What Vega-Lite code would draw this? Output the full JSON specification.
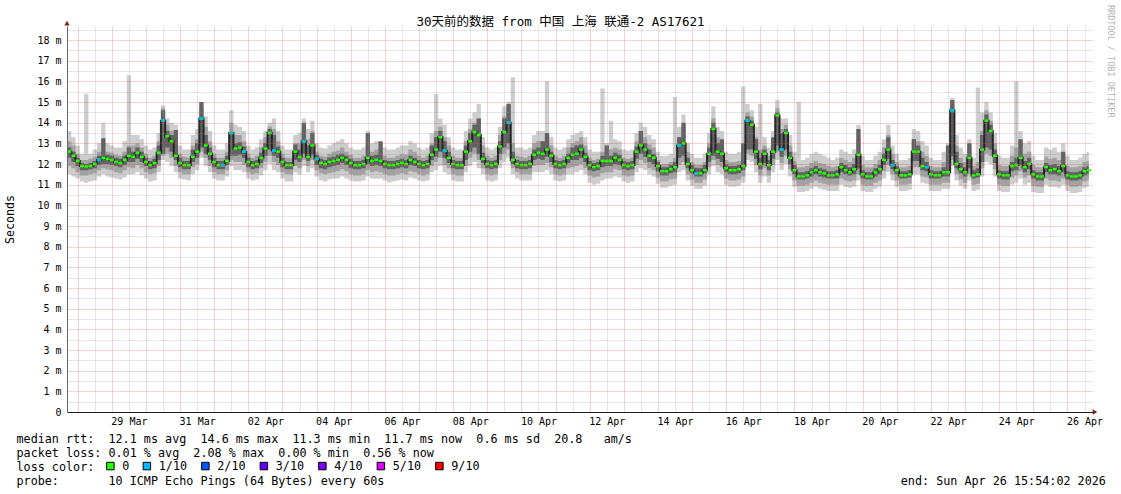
{
"$schema":"https://vega.github.io/schema/vega-lite/v6.json",
"width":1026,"height":386,
"autosize":{"type":"none"},
"padding":{"left":67,"top":26,"right":28,"bottom":82},
"background":"#ffffff",
"config":{"view":{"stroke":null},
 "axisX":{"tickCount":60,"gridDash":[1,1],"labelOverlap":false,"labelFlush":false},
 "axisY":{"tickCount":38,"gridDash":[1,1],"labelOverlap":false,"labelFlush":false}},
"title":{"text":"30天前的数据 from 中国 上海 联通-2 AS17621","anchor":"middle","font":"DejaVu Sans Mono, Noto Sans CJK SC","fontSize":12.5,"fontWeight":"normal","color":"#000000","dx":-19.5,"dy":28,"offset":4},
"data":{"values":[
{"t":"2026-03-27T15:00Z","l":11.6,"h":13.9,"a":12.0,"b":13.4,"c":12.5,"d":13.1,"m":12.9},
{"t":"2026-03-27T18:00Z","l":11.5,"h":13.6,"a":11.9,"b":13.1,"c":12.3,"d":12.8,"m":12.6},
{"t":"2026-03-27T21:00Z","l":11.4,"h":13.3,"a":11.8,"b":12.9,"c":12.1,"d":12.6,"m":12.4},
{"t":"2026-03-28T00:00Z","l":11.3,"h":12.9,"a":11.6,"b":12.5,"c":11.9,"d":12.3,"m":12.15},
{"t":"2026-03-28T03:00Z","l":11.15,"h":12.5,"a":11.45,"b":12.2,"c":11.7,"d":12.05,"m":11.9},
{"t":"2026-03-28T06:00Z","l":11.1,"h":15.4,"a":11.45,"b":12.2,"c":11.7,"d":12.0,"m":11.88},
{"t":"2026-03-28T09:00Z","l":11.15,"h":12.5,"a":11.5,"b":12.25,"c":11.75,"d":12.05,"m":11.9},
{"t":"2026-03-28T12:00Z","l":11.2,"h":12.7,"a":11.55,"b":12.35,"c":11.8,"d":12.15,"m":12.0},
{"t":"2026-03-28T15:00Z","l":11.4,"h":13.0,"a":11.7,"b":12.6,"c":11.95,"d":12.4,"m":12.2,"q":"1/10"},
{"t":"2026-03-28T18:00Z","l":11.5,"h":14.0,"a":11.8,"b":13.1,"c":12.0,"d":13.25,"m":12.3},
{"t":"2026-03-28T21:00Z","l":11.4,"h":13.0,"a":11.75,"b":12.6,"c":12.0,"d":12.45,"m":12.25},
{"t":"2026-03-29T00:00Z","l":11.35,"h":12.9,"a":11.7,"b":12.55,"c":11.95,"d":12.4,"m":12.2},
{"t":"2026-03-29T03:00Z","l":11.3,"h":12.8,"a":11.6,"b":12.45,"c":11.9,"d":12.3,"m":12.1},
{"t":"2026-03-29T06:00Z","l":11.25,"h":12.8,"a":11.55,"b":12.4,"c":11.85,"d":12.25,"m":12.05},
{"t":"2026-03-29T09:00Z","l":11.35,"h":13.1,"a":11.7,"b":12.6,"c":11.95,"d":12.4,"m":12.2},
{"t":"2026-03-29T12:00Z","l":11.5,"h":16.3,"a":11.85,"b":12.9,"c":12.1,"d":12.8,"m":12.4},
{"t":"2026-03-29T15:00Z","l":11.5,"h":13.4,"a":11.8,"b":12.9,"c":12.1,"d":12.6,"m":12.35},
{"t":"2026-03-29T18:00Z","l":11.6,"h":13.4,"a":11.95,"b":13.0,"c":12.25,"d":12.8,"m":12.55},
{"t":"2026-03-29T21:00Z","l":11.45,"h":13.2,"a":11.8,"b":12.8,"c":12.1,"d":12.6,"m":12.35},
{"t":"2026-03-30T00:00Z","l":11.3,"h":12.9,"a":11.6,"b":12.5,"c":11.9,"d":12.3,"m":12.1},
{"t":"2026-03-30T03:00Z","l":11.15,"h":12.7,"a":11.5,"b":12.3,"c":11.75,"d":12.15,"m":11.95},
{"t":"2026-03-30T06:00Z","l":11.2,"h":12.8,"a":11.55,"b":12.4,"c":11.8,"d":12.25,"m":12.05},
{"t":"2026-03-30T09:00Z","l":11.6,"h":13.5,"a":11.9,"b":13.1,"c":12.2,"d":12.9,"m":12.55},
{"t":"2026-03-30T12:00Z","l":12.2,"h":14.85,"a":12.4,"b":14.7,"c":12.5,"d":14.6,"m":14.1,"q":"1/10"},
{"t":"2026-03-30T15:00Z","l":12.1,"h":14.2,"a":12.5,"b":13.9,"c":12.8,"d":13.6,"m":13.35},
{"t":"2026-03-30T18:00Z","l":11.9,"h":14.0,"a":12.3,"b":13.6,"c":12.6,"d":13.4,"m":13.1},
{"t":"2026-03-30T21:00Z","l":11.6,"h":13.9,"a":11.9,"b":13.3,"c":12.2,"d":13.65,"m":12.4},
{"t":"2026-03-31T00:00Z","l":11.3,"h":12.9,"a":11.6,"b":12.5,"c":11.85,"d":12.3,"m":12.05},
{"t":"2026-03-31T03:00Z","l":11.25,"h":12.7,"a":11.5,"b":12.35,"c":11.75,"d":12.15,"m":11.95},
{"t":"2026-03-31T06:00Z","l":11.2,"h":12.7,"a":11.5,"b":12.3,"c":11.75,"d":12.15,"m":11.95},
{"t":"2026-03-31T09:00Z","l":11.5,"h":13.4,"a":11.85,"b":12.9,"c":12.1,"d":12.7,"m":12.35},
{"t":"2026-03-31T12:00Z","l":11.7,"h":13.7,"a":12.0,"b":13.2,"c":12.3,"d":13.0,"m":12.6},
{"t":"2026-03-31T15:00Z","l":12.3,"h":15.0,"a":12.6,"b":14.7,"c":12.8,"d":15.0,"m":14.2,"q":"1/10"},
{"t":"2026-03-31T18:00Z","l":11.9,"h":14.3,"a":12.3,"b":13.8,"c":12.5,"d":13.4,"m":12.9},
{"t":"2026-03-31T21:00Z","l":11.6,"h":13.6,"a":11.9,"b":13.1,"c":12.2,"d":12.8,"m":12.5},
{"t":"2026-04-01T00:00Z","l":11.3,"h":12.9,"a":11.6,"b":12.5,"c":11.85,"d":12.3,"m":12.1},
{"t":"2026-04-01T03:00Z","l":11.2,"h":12.7,"a":11.5,"b":12.3,"c":11.75,"d":12.15,"m":11.95},
{"t":"2026-04-01T06:00Z","l":11.2,"h":12.7,"a":11.5,"b":12.3,"c":11.75,"d":12.15,"m":11.95,"q":"1/10"},
{"t":"2026-04-01T09:00Z","l":11.4,"h":13.0,"a":11.7,"b":12.6,"c":11.95,"d":12.4,"m":12.15},
{"t":"2026-04-01T12:00Z","l":11.9,"h":14.6,"a":12.2,"b":14.0,"c":12.4,"d":13.55,"m":13.5,"q":"1/10"},
{"t":"2026-04-01T15:00Z","l":11.7,"h":13.9,"a":12.1,"b":13.4,"c":12.4,"d":13.0,"m":12.75},
{"t":"2026-04-01T18:00Z","l":11.7,"h":13.8,"a":12.1,"b":13.4,"c":12.45,"d":13.05,"m":12.8},
{"t":"2026-04-01T21:00Z","l":11.6,"h":13.6,"a":11.95,"b":13.1,"c":12.3,"d":12.85,"m":12.6,"q":"1/10"},
{"t":"2026-04-02T00:00Z","l":11.3,"h":12.9,"a":11.6,"b":12.5,"c":11.85,"d":12.3,"m":12.1},
{"t":"2026-04-02T03:00Z","l":11.2,"h":12.7,"a":11.5,"b":12.3,"c":11.75,"d":12.15,"m":11.95},
{"t":"2026-04-02T06:00Z","l":11.25,"h":12.8,"a":11.55,"b":12.4,"c":11.8,"d":12.2,"m":12.0},
{"t":"2026-04-02T09:00Z","l":11.45,"h":13.2,"a":11.8,"b":12.8,"c":12.05,"d":12.55,"m":12.3},
{"t":"2026-04-02T12:00Z","l":11.7,"h":13.6,"a":12.1,"b":13.3,"c":12.4,"d":13.0,"m":12.75},
{"t":"2026-04-02T15:00Z","l":12.0,"h":14.0,"a":12.4,"b":13.8,"c":12.7,"d":13.7,"m":13.5},
{"t":"2026-04-02T18:00Z","l":11.7,"h":14.2,"a":12.1,"b":13.7,"c":12.4,"d":13.4,"m":12.65,"q":"1/10"},
{"t":"2026-04-02T21:00Z","l":11.6,"h":13.6,"a":11.95,"b":13.1,"c":12.3,"d":12.85,"m":12.6},
{"t":"2026-04-03T00:00Z","l":11.3,"h":12.9,"a":11.6,"b":12.5,"c":11.85,"d":12.3,"m":12.1},
{"t":"2026-04-03T03:00Z","l":11.15,"h":12.7,"a":11.5,"b":12.3,"c":11.75,"d":12.1,"m":11.95},
{"t":"2026-04-03T06:00Z","l":11.15,"h":12.7,"a":11.5,"b":12.3,"c":11.75,"d":12.1,"m":11.95},
{"t":"2026-04-03T09:00Z","l":11.6,"h":13.4,"a":11.9,"b":13.0,"c":12.2,"d":12.95,"m":12.6},
{"t":"2026-04-03T12:00Z","l":11.5,"h":13.5,"a":11.8,"b":13.0,"c":12.1,"d":12.7,"m":12.35},
{"t":"2026-04-03T15:00Z","l":11.9,"h":14.2,"a":12.2,"b":13.7,"c":12.5,"d":14.0,"m":13.1,"q":"1/10"},
{"t":"2026-04-03T18:00Z","l":11.6,"h":13.7,"a":11.9,"b":13.2,"c":12.15,"d":12.9,"m":12.35},
{"t":"2026-04-03T21:00Z","l":11.8,"h":14.1,"a":12.2,"b":13.6,"c":12.45,"d":13.5,"m":12.9},
{"t":"2026-04-04T00:00Z","l":11.4,"h":13.0,"a":11.7,"b":12.6,"c":11.95,"d":12.45,"m":12.25,"q":"1/10"},
{"t":"2026-04-04T03:00Z","l":11.2,"h":12.8,"a":11.55,"b":12.4,"c":11.8,"d":12.25,"m":12.05},
{"t":"2026-04-04T06:00Z","l":11.15,"h":12.75,"a":11.5,"b":12.35,"c":11.75,"d":12.2,"m":12.0},
{"t":"2026-04-04T09:00Z","l":11.25,"h":12.9,"a":11.55,"b":12.5,"c":11.85,"d":12.3,"m":12.1},
{"t":"2026-04-04T12:00Z","l":11.3,"h":13.0,"a":11.6,"b":12.6,"c":11.9,"d":12.35,"m":12.15},
{"t":"2026-04-04T15:00Z","l":11.3,"h":13.1,"a":11.65,"b":12.65,"c":11.95,"d":12.45,"m":12.2},
{"t":"2026-04-04T18:00Z","l":11.4,"h":13.2,"a":11.75,"b":12.8,"c":12.05,"d":12.5,"m":12.3},
{"t":"2026-04-04T21:00Z","l":11.3,"h":13.0,"a":11.65,"b":12.6,"c":11.95,"d":12.4,"m":12.2},
{"t":"2026-04-05T00:00Z","l":11.2,"h":12.8,"a":11.5,"b":12.45,"c":11.8,"d":12.25,"m":12.05},
{"t":"2026-04-05T03:00Z","l":11.15,"h":12.7,"a":11.45,"b":12.3,"c":11.75,"d":12.15,"m":11.95},
{"t":"2026-04-05T06:00Z","l":11.15,"h":12.7,"a":11.45,"b":12.3,"c":11.75,"d":12.15,"m":11.95},
{"t":"2026-04-05T09:00Z","l":11.2,"h":12.8,"a":11.5,"b":12.4,"c":11.8,"d":12.2,"m":12.0},
{"t":"2026-04-05T12:00Z","l":11.4,"h":13.6,"a":11.7,"b":12.9,"c":12.0,"d":13.5,"m":12.3},
{"t":"2026-04-05T15:00Z","l":11.3,"h":13.0,"a":11.6,"b":12.6,"c":11.9,"d":12.4,"m":12.15},
{"t":"2026-04-05T18:00Z","l":11.3,"h":13.1,"a":11.65,"b":12.7,"c":11.95,"d":12.45,"m":12.2},
{"t":"2026-04-05T21:00Z","l":11.3,"h":13.0,"a":11.6,"b":12.6,"c":11.9,"d":13.1,"m":12.15},
{"t":"2026-04-06T00:00Z","l":11.2,"h":12.8,"a":11.5,"b":12.4,"c":11.8,"d":12.2,"m":12.0},
{"t":"2026-04-06T03:00Z","l":11.1,"h":12.7,"a":11.45,"b":12.3,"c":11.75,"d":12.15,"m":11.95},
{"t":"2026-04-06T06:00Z","l":11.15,"h":12.7,"a":11.45,"b":12.3,"c":11.75,"d":12.15,"m":11.95},
{"t":"2026-04-06T09:00Z","l":11.2,"h":12.8,"a":11.5,"b":12.4,"c":11.8,"d":12.2,"m":12.0},
{"t":"2026-04-06T12:00Z","l":11.25,"h":12.9,"a":11.55,"b":12.5,"c":11.85,"d":12.25,"m":12.05},
{"t":"2026-04-06T15:00Z","l":11.2,"h":12.9,"a":11.5,"b":12.45,"c":11.8,"d":12.2,"m":12.0},
{"t":"2026-04-06T18:00Z","l":11.35,"h":13.1,"a":11.65,"b":12.7,"c":11.95,"d":12.4,"m":12.2},
{"t":"2026-04-06T21:00Z","l":11.3,"h":13.0,"a":11.6,"b":12.6,"c":11.9,"d":12.3,"m":12.1},
{"t":"2026-04-07T00:00Z","l":11.2,"h":12.8,"a":11.5,"b":12.4,"c":11.8,"d":12.2,"m":12.0},
{"t":"2026-04-07T03:00Z","l":11.15,"h":12.7,"a":11.45,"b":12.3,"c":11.75,"d":12.15,"m":11.95},
{"t":"2026-04-07T06:00Z","l":11.2,"h":12.8,"a":11.5,"b":12.4,"c":11.8,"d":12.2,"m":12.0},
{"t":"2026-04-07T09:00Z","l":11.6,"h":13.5,"a":11.9,"b":13.0,"c":12.2,"d":12.9,"m":12.45},
{"t":"2026-04-07T12:00Z","l":11.7,"h":15.4,"a":12.1,"b":13.6,"c":12.35,"d":13.3,"m":12.7},
{"t":"2026-04-07T15:00Z","l":11.9,"h":14.2,"a":12.3,"b":13.8,"c":12.6,"d":13.6,"m":13.3},
{"t":"2026-04-07T18:00Z","l":11.6,"h":13.9,"a":11.95,"b":13.3,"c":12.3,"d":13.1,"m":12.65,"q":"1/10"},
{"t":"2026-04-07T21:00Z","l":11.5,"h":13.3,"a":11.8,"b":12.9,"c":12.05,"d":12.6,"m":12.3},
{"t":"2026-04-08T00:00Z","l":11.2,"h":12.8,"a":11.5,"b":12.4,"c":11.8,"d":12.2,"m":12.0},
{"t":"2026-04-08T03:00Z","l":11.15,"h":12.7,"a":11.45,"b":12.3,"c":11.75,"d":12.15,"m":11.95},
{"t":"2026-04-08T06:00Z","l":11.15,"h":12.7,"a":11.45,"b":12.3,"c":11.75,"d":12.15,"m":11.95},
{"t":"2026-04-08T09:00Z","l":11.6,"h":13.6,"a":11.9,"b":13.1,"c":12.2,"d":12.9,"m":12.6},
{"t":"2026-04-08T12:00Z","l":11.9,"h":14.2,"a":12.3,"b":13.7,"c":12.6,"d":13.5,"m":13.1},
{"t":"2026-04-08T15:00Z","l":12.1,"h":14.5,"a":12.5,"b":14.0,"c":12.8,"d":13.9,"m":13.55},
{"t":"2026-04-08T18:00Z","l":11.8,"h":14.9,"a":12.2,"b":14.2,"c":12.5,"d":14.2,"m":13.4},
{"t":"2026-04-08T21:00Z","l":11.5,"h":13.3,"a":11.8,"b":12.9,"c":12.05,"d":12.55,"m":12.25},
{"t":"2026-04-09T00:00Z","l":11.2,"h":12.8,"a":11.5,"b":12.4,"c":11.8,"d":12.2,"m":12.0},
{"t":"2026-04-09T03:00Z","l":11.15,"h":12.7,"a":11.45,"b":12.3,"c":11.75,"d":12.15,"m":11.95},
{"t":"2026-04-09T06:00Z","l":11.2,"h":12.8,"a":11.5,"b":12.4,"c":11.8,"d":12.2,"m":12.0},
{"t":"2026-04-09T09:00Z","l":11.8,"h":13.8,"a":12.2,"b":13.4,"c":12.5,"d":13.1,"m":12.85},
{"t":"2026-04-09T12:00Z","l":12.1,"h":14.8,"a":12.5,"b":14.3,"c":12.8,"d":14.2,"m":13.55},
{"t":"2026-04-09T15:00Z","l":12.3,"h":15.0,"a":12.7,"b":14.7,"c":13.0,"d":14.9,"m":14.0,"q":"1/10"},
{"t":"2026-04-09T18:00Z","l":11.5,"h":16.2,"a":11.8,"b":13.0,"c":12.0,"d":12.6,"m":12.2},
{"t":"2026-04-09T21:00Z","l":11.3,"h":12.8,"a":11.6,"b":12.4,"c":11.8,"d":12.2,"m":12.0},
{"t":"2026-04-10T00:00Z","l":11.2,"h":12.8,"a":11.5,"b":12.35,"c":11.75,"d":12.15,"m":11.95},
{"t":"2026-04-10T03:00Z","l":11.2,"h":12.7,"a":11.5,"b":12.3,"c":11.75,"d":12.15,"m":11.95},
{"t":"2026-04-10T06:00Z","l":11.2,"h":12.8,"a":11.5,"b":12.4,"c":11.8,"d":12.2,"m":12.0},
{"t":"2026-04-10T09:00Z","l":11.6,"h":13.4,"a":11.9,"b":13.0,"c":12.2,"d":12.7,"m":12.45},
{"t":"2026-04-10T12:00Z","l":11.6,"h":13.6,"a":11.95,"b":13.1,"c":12.25,"d":12.8,"m":12.55},
{"t":"2026-04-10T15:00Z","l":11.6,"h":13.6,"a":11.95,"b":13.1,"c":12.2,"d":13.1,"m":12.5},
{"t":"2026-04-10T18:00Z","l":11.7,"h":16.0,"a":12.05,"b":13.4,"c":12.35,"d":13.5,"m":12.7},
{"t":"2026-04-10T21:00Z","l":11.5,"h":13.3,"a":11.85,"b":12.9,"c":12.1,"d":12.6,"m":12.4},
{"t":"2026-04-11T00:00Z","l":11.2,"h":12.8,"a":11.5,"b":12.4,"c":11.8,"d":12.2,"m":12.0},
{"t":"2026-04-11T03:00Z","l":11.15,"h":12.7,"a":11.45,"b":12.3,"c":11.75,"d":12.15,"m":11.95},
{"t":"2026-04-11T06:00Z","l":11.2,"h":12.8,"a":11.5,"b":12.4,"c":11.8,"d":12.2,"m":12.0},
{"t":"2026-04-11T09:00Z","l":11.5,"h":13.2,"a":11.8,"b":12.8,"c":12.05,"d":12.5,"m":12.3},
{"t":"2026-04-11T12:00Z","l":11.5,"h":13.4,"a":11.85,"b":13.0,"c":12.2,"d":12.8,"m":12.45},
{"t":"2026-04-11T15:00Z","l":11.6,"h":13.5,"a":11.9,"b":13.1,"c":12.2,"d":12.9,"m":12.5},
{"t":"2026-04-11T18:00Z","l":11.7,"h":13.6,"a":12.0,"b":13.3,"c":12.3,"d":12.95,"m":12.7},
{"t":"2026-04-11T21:00Z","l":11.5,"h":13.3,"a":11.8,"b":12.9,"c":12.1,"d":12.55,"m":12.35},
{"t":"2026-04-12T00:00Z","l":11.1,"h":12.7,"a":11.45,"b":12.3,"c":11.7,"d":12.15,"m":11.95},
{"t":"2026-04-12T03:00Z","l":11.0,"h":12.6,"a":11.35,"b":12.2,"c":11.65,"d":12.05,"m":11.85},
{"t":"2026-04-12T06:00Z","l":11.05,"h":12.6,"a":11.4,"b":12.25,"c":11.7,"d":12.1,"m":11.9},
{"t":"2026-04-12T09:00Z","l":11.2,"h":15.65,"a":11.55,"b":12.6,"c":11.85,"d":12.4,"m":12.15},
{"t":"2026-04-12T12:00Z","l":11.3,"h":13.0,"a":11.6,"b":12.6,"c":11.9,"d":12.9,"m":12.15},
{"t":"2026-04-12T15:00Z","l":11.3,"h":14.1,"a":11.6,"b":12.7,"c":11.9,"d":12.4,"m":12.15},
{"t":"2026-04-12T18:00Z","l":11.4,"h":13.2,"a":11.75,"b":12.8,"c":12.0,"d":12.55,"m":12.3},
{"t":"2026-04-12T21:00Z","l":11.35,"h":13.1,"a":11.7,"b":12.7,"c":11.95,"d":12.45,"m":12.2},
{"t":"2026-04-13T00:00Z","l":11.15,"h":12.7,"a":11.45,"b":12.3,"c":11.75,"d":12.15,"m":11.95},
{"t":"2026-04-13T03:00Z","l":11.1,"h":12.65,"a":11.4,"b":12.25,"c":11.7,"d":12.1,"m":11.9},
{"t":"2026-04-13T06:00Z","l":11.15,"h":12.7,"a":11.45,"b":12.3,"c":11.75,"d":12.15,"m":11.95},
{"t":"2026-04-13T09:00Z","l":11.6,"h":13.5,"a":11.95,"b":13.1,"c":12.25,"d":12.85,"m":12.6},
{"t":"2026-04-13T12:00Z","l":11.8,"h":14.0,"a":12.2,"b":13.6,"c":12.5,"d":13.6,"m":12.9},
{"t":"2026-04-13T15:00Z","l":11.7,"h":13.8,"a":12.05,"b":13.3,"c":12.35,"d":13.0,"m":12.7},
{"t":"2026-04-13T18:00Z","l":11.5,"h":13.4,"a":11.8,"b":12.95,"c":12.1,"d":12.7,"m":12.4},
{"t":"2026-04-13T21:00Z","l":11.4,"h":13.2,"a":11.7,"b":12.8,"c":12.0,"d":12.5,"m":12.3},
{"t":"2026-04-14T00:00Z","l":11.05,"h":12.6,"a":11.35,"b":12.2,"c":11.65,"d":12.1,"m":11.9},
{"t":"2026-04-14T03:00Z","l":10.85,"h":12.4,"a":11.15,"b":12.0,"c":11.45,"d":11.85,"m":11.65},
{"t":"2026-04-14T06:00Z","l":10.85,"h":12.4,"a":11.15,"b":12.0,"c":11.45,"d":11.85,"m":11.65},
{"t":"2026-04-14T09:00Z","l":10.95,"h":12.5,"a":11.25,"b":12.1,"c":11.55,"d":11.95,"m":11.75},
{"t":"2026-04-14T12:00Z","l":11.0,"h":15.25,"a":11.3,"b":12.3,"c":11.6,"d":12.1,"m":11.85},
{"t":"2026-04-14T15:00Z","l":11.6,"h":13.8,"a":11.95,"b":13.3,"c":12.3,"d":13.3,"m":12.9,"q":"1/10"},
{"t":"2026-04-14T18:00Z","l":11.7,"h":14.4,"a":12.1,"b":13.8,"c":12.4,"d":14.0,"m":13.0},
{"t":"2026-04-14T21:00Z","l":11.2,"h":13.0,"a":11.5,"b":12.6,"c":11.8,"d":12.3,"m":12.0},
{"t":"2026-04-15T00:00Z","l":10.95,"h":12.5,"a":11.25,"b":12.1,"c":11.55,"d":11.95,"m":11.7},
{"t":"2026-04-15T03:00Z","l":10.8,"h":12.3,"a":11.1,"b":11.95,"c":11.4,"d":11.8,"m":11.55,"q":"1/10"},
{"t":"2026-04-15T06:00Z","l":10.8,"h":12.3,"a":11.1,"b":11.95,"c":11.4,"d":11.8,"m":11.55},
{"t":"2026-04-15T09:00Z","l":10.95,"h":12.5,"a":11.25,"b":12.1,"c":11.55,"d":11.95,"m":11.7},
{"t":"2026-04-15T12:00Z","l":11.5,"h":13.5,"a":11.85,"b":13.0,"c":12.1,"d":12.8,"m":12.5},
{"t":"2026-04-15T15:00Z","l":11.9,"h":14.8,"a":12.2,"b":14.2,"c":12.4,"d":14.0,"m":13.7},
{"t":"2026-04-15T18:00Z","l":11.6,"h":13.8,"a":11.95,"b":13.3,"c":12.25,"d":13.0,"m":12.6},
{"t":"2026-04-15T21:00Z","l":11.5,"h":13.6,"a":11.85,"b":13.1,"c":12.1,"d":13.2,"m":12.5},
{"t":"2026-04-16T00:00Z","l":11.0,"h":12.6,"a":11.3,"b":12.2,"c":11.6,"d":12.0,"m":11.8},
{"t":"2026-04-16T03:00Z","l":10.9,"h":12.5,"a":11.2,"b":12.1,"c":11.5,"d":11.9,"m":11.7},
{"t":"2026-04-16T06:00Z","l":10.9,"h":12.5,"a":11.2,"b":12.1,"c":11.5,"d":11.9,"m":11.7},
{"t":"2026-04-16T09:00Z","l":10.95,"h":12.6,"a":11.25,"b":12.15,"c":11.55,"d":11.95,"m":11.75},
{"t":"2026-04-16T12:00Z","l":11.1,"h":15.75,"a":11.4,"b":12.8,"c":11.7,"d":13.0,"m":11.9},
{"t":"2026-04-16T15:00Z","l":12.2,"h":14.9,"a":12.5,"b":14.5,"c":12.7,"d":14.3,"m":14.1,"q":"1/10"},
{"t":"2026-04-16T18:00Z","l":12.1,"h":14.6,"a":12.4,"b":14.3,"c":12.7,"d":14.1,"m":13.9},
{"t":"2026-04-16T21:00Z","l":11.6,"h":13.8,"a":11.95,"b":13.3,"c":12.25,"d":13.2,"m":12.6},
{"t":"2026-04-17T00:00Z","l":11.1,"h":14.9,"a":11.45,"b":12.7,"c":11.75,"d":12.3,"m":12.0},
{"t":"2026-04-17T03:00Z","l":11.4,"h":13.3,"a":11.8,"b":12.9,"c":12.05,"d":12.7,"m":12.5},
{"t":"2026-04-17T06:00Z","l":11.1,"h":12.8,"a":11.45,"b":12.4,"c":11.7,"d":12.2,"m":11.95},
{"t":"2026-04-17T09:00Z","l":11.6,"h":13.6,"a":11.95,"b":13.2,"c":12.25,"d":13.3,"m":12.6},
{"t":"2026-04-17T12:00Z","l":12.2,"h":15.1,"a":12.6,"b":14.7,"c":12.9,"d":14.5,"m":14.35},
{"t":"2026-04-17T15:00Z","l":11.7,"h":14.2,"a":12.05,"b":13.7,"c":12.35,"d":13.5,"m":12.7,"q":"1/10"},
{"t":"2026-04-17T18:00Z","l":12.0,"h":14.2,"a":12.4,"b":13.9,"c":12.7,"d":13.7,"m":13.5},
{"t":"2026-04-17T21:00Z","l":11.4,"h":13.4,"a":11.75,"b":12.9,"c":12.0,"d":12.6,"m":12.3},
{"t":"2026-04-18T00:00Z","l":10.9,"h":12.6,"a":11.2,"b":12.15,"c":11.5,"d":11.95,"m":11.7},
{"t":"2026-04-18T03:00Z","l":10.65,"h":15.0,"a":10.95,"b":11.85,"c":11.25,"d":11.6,"m":11.4},
{"t":"2026-04-18T06:00Z","l":10.65,"h":12.2,"a":10.95,"b":11.85,"c":11.25,"d":11.6,"m":11.4},
{"t":"2026-04-18T09:00Z","l":10.7,"h":12.3,"a":11.0,"b":11.9,"c":11.3,"d":11.65,"m":11.45},
{"t":"2026-04-18T12:00Z","l":10.8,"h":12.5,"a":11.1,"b":12.05,"c":11.4,"d":11.8,"m":11.6},
{"t":"2026-04-18T15:00Z","l":10.9,"h":12.6,"a":11.2,"b":12.15,"c":11.5,"d":11.9,"m":11.7},
{"t":"2026-04-18T18:00Z","l":10.8,"h":12.5,"a":11.1,"b":12.05,"c":11.4,"d":11.8,"m":11.6},
{"t":"2026-04-18T21:00Z","l":10.75,"h":12.4,"a":11.05,"b":12.0,"c":11.35,"d":11.75,"m":11.55},
{"t":"2026-04-19T00:00Z","l":10.7,"h":12.3,"a":11.0,"b":11.9,"c":11.3,"d":11.65,"m":11.45},
{"t":"2026-04-19T03:00Z","l":10.7,"h":12.2,"a":11.0,"b":11.85,"c":11.3,"d":11.65,"m":11.45},
{"t":"2026-04-19T06:00Z","l":10.7,"h":12.3,"a":11.0,"b":11.9,"c":11.3,"d":11.7,"m":11.5},
{"t":"2026-04-19T09:00Z","l":11.0,"h":12.7,"a":11.3,"b":12.3,"c":11.6,"d":12.05,"m":11.85},
{"t":"2026-04-19T12:00Z","l":10.9,"h":12.6,"a":11.2,"b":12.2,"c":11.5,"d":11.95,"m":11.7},
{"t":"2026-04-19T15:00Z","l":10.85,"h":12.5,"a":11.15,"b":12.1,"c":11.45,"d":11.85,"m":11.6},
{"t":"2026-04-19T18:00Z","l":10.9,"h":12.7,"a":11.2,"b":12.3,"c":11.5,"d":12.0,"m":11.75},
{"t":"2026-04-19T21:00Z","l":11.2,"h":13.9,"a":11.5,"b":13.2,"c":11.8,"d":13.7,"m":12.45},
{"t":"2026-04-20T00:00Z","l":10.7,"h":12.4,"a":11.0,"b":11.95,"c":11.3,"d":11.7,"m":11.5},
{"t":"2026-04-20T03:00Z","l":10.65,"h":12.2,"a":10.95,"b":11.85,"c":11.25,"d":11.6,"m":11.4},
{"t":"2026-04-20T06:00Z","l":10.65,"h":12.2,"a":10.95,"b":11.85,"c":11.25,"d":11.6,"m":11.4},
{"t":"2026-04-20T09:00Z","l":10.8,"h":12.4,"a":11.1,"b":12.0,"c":11.4,"d":11.8,"m":11.6},
{"t":"2026-04-20T12:00Z","l":10.9,"h":12.6,"a":11.2,"b":12.2,"c":11.5,"d":11.95,"m":11.75},
{"t":"2026-04-20T15:00Z","l":11.3,"h":13.2,"a":11.65,"b":12.8,"c":11.95,"d":12.5,"m":12.2},
{"t":"2026-04-20T18:00Z","l":11.6,"h":13.9,"a":11.95,"b":13.4,"c":12.25,"d":13.3,"m":12.7},
{"t":"2026-04-20T21:00Z","l":11.2,"h":12.9,"a":11.5,"b":12.5,"c":11.75,"d":12.2,"m":11.95,"q":"1/10"},
{"t":"2026-04-21T00:00Z","l":10.9,"h":12.5,"a":11.2,"b":12.1,"c":11.5,"d":11.9,"m":11.7},
{"t":"2026-04-21T03:00Z","l":10.7,"h":12.2,"a":11.0,"b":11.85,"c":11.3,"d":11.65,"m":11.45},
{"t":"2026-04-21T06:00Z","l":10.7,"h":12.2,"a":11.0,"b":11.85,"c":11.3,"d":11.65,"m":11.45},
{"t":"2026-04-21T09:00Z","l":10.75,"h":12.3,"a":11.05,"b":11.9,"c":11.35,"d":11.7,"m":11.5},
{"t":"2026-04-21T12:00Z","l":11.5,"h":13.7,"a":11.85,"b":13.2,"c":12.15,"d":13.2,"m":12.6},
{"t":"2026-04-21T15:00Z","l":11.5,"h":13.6,"a":11.85,"b":13.1,"c":12.15,"d":12.9,"m":12.6},
{"t":"2026-04-21T18:00Z","l":11.1,"h":13.1,"a":11.4,"b":12.6,"c":11.7,"d":12.3,"m":11.9},
{"t":"2026-04-21T21:00Z","l":11.05,"h":12.9,"a":11.35,"b":12.4,"c":11.65,"d":12.1,"m":11.85,"q":"1/10"},
{"t":"2026-04-22T00:00Z","l":10.7,"h":12.3,"a":11.0,"b":11.9,"c":11.3,"d":11.7,"m":11.5},
{"t":"2026-04-22T03:00Z","l":10.7,"h":12.2,"a":11.0,"b":11.85,"c":11.3,"d":11.65,"m":11.45},
{"t":"2026-04-22T06:00Z","l":10.7,"h":12.2,"a":11.0,"b":11.85,"c":11.3,"d":11.65,"m":11.45},
{"t":"2026-04-22T09:00Z","l":10.8,"h":12.6,"a":11.1,"b":12.1,"c":11.4,"d":11.85,"m":11.6},
{"t":"2026-04-22T12:00Z","l":10.8,"h":13.0,"a":11.1,"b":12.4,"c":11.4,"d":12.9,"m":11.6},
{"t":"2026-04-22T15:00Z","l":11.9,"h":15.2,"a":12.2,"b":14.9,"c":12.4,"d":15.1,"m":14.6,"q":"1/10"},
{"t":"2026-04-22T18:00Z","l":11.2,"h":13.4,"a":11.5,"b":12.9,"c":11.8,"d":12.6,"m":12.0},
{"t":"2026-04-22T21:00Z","l":10.95,"h":12.8,"a":11.25,"b":12.3,"c":11.55,"d":12.05,"m":11.75},
{"t":"2026-04-23T00:00Z","l":10.8,"h":12.5,"a":11.1,"b":12.1,"c":11.4,"d":11.85,"m":11.6},
{"t":"2026-04-23T03:00Z","l":11.2,"h":13.2,"a":11.5,"b":12.8,"c":11.8,"d":13.0,"m":12.3},
{"t":"2026-04-23T06:00Z","l":10.7,"h":12.3,"a":11.0,"b":11.9,"c":11.3,"d":11.7,"m":11.45},
{"t":"2026-04-23T09:00Z","l":10.75,"h":15.7,"a":11.05,"b":12.1,"c":11.35,"d":11.8,"m":11.5},
{"t":"2026-04-23T12:00Z","l":11.4,"h":14.5,"a":11.8,"b":13.6,"c":12.1,"d":13.4,"m":12.7},
{"t":"2026-04-23T15:00Z","l":12.1,"h":15.0,"a":12.5,"b":14.6,"c":12.8,"d":14.4,"m":14.1},
{"t":"2026-04-23T18:00Z","l":12.0,"h":14.5,"a":12.4,"b":14.1,"c":12.7,"d":13.9,"m":13.6},
{"t":"2026-04-23T21:00Z","l":11.4,"h":13.5,"a":11.75,"b":13.0,"c":12.05,"d":12.7,"m":12.4},
{"t":"2026-04-24T00:00Z","l":10.7,"h":12.4,"a":11.0,"b":11.95,"c":11.3,"d":11.7,"m":11.5},
{"t":"2026-04-24T03:00Z","l":10.65,"h":12.3,"a":10.95,"b":11.9,"c":11.25,"d":11.65,"m":11.45},
{"t":"2026-04-24T06:00Z","l":10.65,"h":12.3,"a":10.95,"b":11.9,"c":11.25,"d":11.65,"m":11.45},
{"t":"2026-04-24T09:00Z","l":11.0,"h":12.9,"a":11.35,"b":12.4,"c":11.65,"d":12.1,"m":11.9},
{"t":"2026-04-24T12:00Z","l":11.1,"h":16.0,"a":11.45,"b":12.8,"c":11.7,"d":12.3,"m":11.95},
{"t":"2026-04-24T15:00Z","l":11.3,"h":13.6,"a":11.65,"b":13.1,"c":11.95,"d":13.2,"m":12.3},
{"t":"2026-04-24T18:00Z","l":11.0,"h":13.0,"a":11.35,"b":12.5,"c":11.6,"d":12.15,"m":11.85},
{"t":"2026-04-24T21:00Z","l":11.1,"h":13.1,"a":11.45,"b":12.6,"c":11.75,"d":12.3,"m":12.0},
{"t":"2026-04-25T00:00Z","l":10.65,"h":12.4,"a":10.95,"b":11.95,"c":11.3,"d":11.7,"m":11.5},
{"t":"2026-04-25T03:00Z","l":10.6,"h":12.2,"a":10.9,"b":11.85,"c":11.2,"d":11.6,"m":11.4},
{"t":"2026-04-25T06:00Z","l":10.6,"h":12.2,"a":10.9,"b":11.85,"c":11.2,"d":11.6,"m":11.4},
{"t":"2026-04-25T09:00Z","l":11.0,"h":12.8,"a":11.3,"b":12.35,"c":11.6,"d":12.05,"m":11.85},
{"t":"2026-04-25T12:00Z","l":10.9,"h":12.7,"a":11.2,"b":12.25,"c":11.5,"d":11.95,"m":11.7},
{"t":"2026-04-25T15:00Z","l":10.9,"h":12.8,"a":11.2,"b":12.3,"c":11.5,"d":12.0,"m":11.75},
{"t":"2026-04-25T18:00Z","l":10.85,"h":12.6,"a":11.15,"b":12.2,"c":11.45,"d":11.9,"m":11.65},
{"t":"2026-04-25T21:00Z","l":11.0,"h":13.0,"a":11.3,"b":12.5,"c":11.6,"d":12.6,"m":11.9},
{"t":"2026-04-26T00:00Z","l":10.7,"h":12.4,"a":11.0,"b":11.9,"c":11.25,"d":11.65,"m":11.45},
{"t":"2026-04-26T03:00Z","l":10.6,"h":12.2,"a":10.9,"b":11.85,"c":11.2,"d":11.6,"m":11.4},
{"t":"2026-04-26T06:00Z","l":10.6,"h":12.2,"a":10.9,"b":11.85,"c":11.2,"d":11.6,"m":11.4},
{"t":"2026-04-26T09:00Z","l":10.65,"h":12.3,"a":10.95,"b":11.9,"c":11.25,"d":11.65,"m":11.45},
{"t":"2026-04-26T12:00Z","l":10.85,"h":12.5,"a":11.15,"b":12.1,"c":11.45,"d":11.85,"m":11.65},
{"t":"2026-04-26T15:00Z","l":10.9,"h":12.6,"a":11.2,"b":12.15,"c":11.5,"d":11.9,"m":11.7}
]},
"layer":[
{"mark":{"type":"area","interpolate":"step","color":"#cdcdcd","opacity":1,"clip":true},
 "encoding":{
  "x":{"field":"t","type":"temporal","scale":{"type":"utc","domain":[1774628880000,1777226220000]},
   "axis":{"orient":"bottom","tickCount":60,"values":[1774656000000,1774699200000,1774742400000,1774785600000,1774828800000,1774872000000,1774915200000,1774958400000,1775001600000,1775044800000,1775088000000,1775131200000,1775174400000,1775217600000,1775260800000,1775304000000,1775347200000,1775390400000,1775433600000,1775476800000,1775520000000,1775563200000,1775606400000,1775649600000,1775692800000,1775736000000,1775779200000,1775822400000,1775865600000,1775908800000,1775952000000,1775995200000,1776038400000,1776081600000,1776124800000,1776168000000,1776211200000,1776254400000,1776297600000,1776340800000,1776384000000,1776427200000,1776470400000,1776513600000,1776556800000,1776600000000,1776643200000,1776686400000,1776729600000,1776772800000,1776816000000,1776859200000,1776902400000,1776945600000,1776988800000,1777032000000,1777075200000,1777118400000,1777161600000,1777204800000],
    "grid":true,
    "gridColor":{"condition":{"test":"utchours(datum.value) == 0","value":"rgba(222,79,79,0.5)"},"value":"rgba(143,143,143,0.45)"},
    "gridDash":[1,1],"ticks":false,"domain":true,"domainColor":"#1f1f1f","zindex":1,
    "labelExpr":"((datum.value - 1774785600000) % 172800000) == 0 ? utcFormat(datum.value, '%d %b') : ''",
    "labelFont":"DejaVu Sans Mono","labelFontSize":10,"labelColor":"#000000","labelPadding":4,"labelOverlap":false,"labelFlush":false,
    "title":["median rtt: \u00a012.1 ms avg \u00a014.6 ms max \u00a011.3 ms min \u00a011.7 ms now \u00a00.6 ms sd \u00a020.8 \u00a0\u00a0am/s","packet loss: 0.01 % avg \u00a02.08 % max \u00a00.00 % min \u00a00.56 % now","loss color:","probe: \u00a0\u00a0\u00a0\u00a0\u00a0\u00a010 ICMP Echo Pings (64 Bytes) every 60s\u00a0\u00a0\u00a0\u00a0\u00a0\u00a0\u00a0\u00a0\u00a0\u00a0\u00a0\u00a0\u00a0\u00a0\u00a0\u00a0\u00a0\u00a0\u00a0\u00a0\u00a0\u00a0\u00a0\u00a0\u00a0\u00a0\u00a0\u00a0\u00a0\u00a0\u00a0\u00a0\u00a0\u00a0\u00a0\u00a0\u00a0\u00a0\u00a0\u00a0\u00a0\u00a0\u00a0\u00a0\u00a0\u00a0\u00a0\u00a0\u00a0\u00a0\u00a0\u00a0\u00a0\u00a0\u00a0\u00a0\u00a0\u00a0\u00a0\u00a0\u00a0\u00a0\u00a0\u00a0\u00a0\u00a0\u00a0\u00a0\u00a0\u00a0\u00a0\u00a0\u00a0end: Sun Apr 26 15:54:02 2026"],
    "titleX":-51,"titleY":30,"titleAlign":"left","titleBaseline":"alphabetic","titleLineHeight":14,
    "titleFont":"DejaVu Sans Mono","titleFontSize":11.75,"titleFontWeight":"normal","titleColor":"#000000"}},
  "y":{"field":"l","type":"quantitative","scale":{"domain":[0,18.68],"nice":false,"zero":false},
   "axis":{"orient":"left","tickCount":38,"values":[0,0.5,1,1.5,2,2.5,3,3.5,4,4.5,5,5.5,6,6.5,7,7.5,8,8.5,9,9.5,10,10.5,11,11.5,12,12.5,13,13.5,14,14.5,15,15.5,16,16.5,17,17.5,18,18.5],
    "grid":true,"gridColor":{"condition":{"test":"datum.value % 1 == 0","value":"rgba(222,79,79,0.5)"},"value":"rgba(143,143,143,0.45)"},
    "gridDash":[1,1],"ticks":false,"domain":true,"domainColor":"#666666","zindex":1,
    "labelExpr":"datum.value % 1 != 0 ? '' : (datum.value == 0 ? '0\u00a0\u00a0' : datum.value + ' m')",
    "labelFont":"DejaVu Sans Mono","labelFontSize":10,"labelColor":"#000000","labelPadding":6,"labelOverlap":false,"labelFlush":false,
    "title":"Seconds","titleFont":"DejaVu Sans Mono","titleFontSize":11.6,"titleFontWeight":"normal","titleColor":"#000000",
    "titleX":-57,"titleY":193,"titleAngle":-90,"titleAlign":"center","titleBaseline":"middle"}},
  "y2":{"field":"h"}}},
{"mark":{"type":"area","interpolate":"step","color":"#a2a2a2","opacity":1,"clip":true},
 "encoding":{
  "x":{"field":"t","type":"temporal"},
  "y":{"field":"a","type":"quantitative"},
  "y2":{"field":"b"}}},
{"mark":{"type":"area","interpolate":"step","color":"#626262","opacity":1,"clip":true},
 "encoding":{
  "x":{"field":"t","type":"temporal"},
  "y":{"field":"c","type":"quantitative"},
  "y2":{"field":"d"}}},
{"mark":{"type":"line","interpolate":"step","color":"#262626","strokeWidth":2,"clip":true},
 "encoding":{
  "x":{"field":"t","type":"temporal"},
  "y":{"field":"m","type":"quantitative"}}},
{"mark":{"type":"tick","orient":"horizontal","color":"#26ff00","size":4,"thickness":2.5,"opacity":1,"clip":true},
 "encoding":{
  "x":{"field":"t","type":"temporal"},
  "y":{"field":"m","type":"quantitative"}}},
{"transform":[{"filter":"isValid(datum.q)"}],
 "mark":{"type":"tick","orient":"horizontal","size":4,"thickness":2.5,"opacity":1,"clip":true},
 "encoding":{
  "x":{"field":"t","type":"temporal"},
  "y":{"field":"m","type":"quantitative"},
  "color":{"field":"q","type":"nominal","scale":{"domain":["0","1/10","2/10","3/10","4/10","5/10","9/10"],"range":["#26ff00","#00b8ff","#0059ff","#5e00ff","#7e00ff","#dd00ff","#ff0000"]},
   "legend":{"orient":"none","legendX":37.5,"legendY":434,"direction":"horizontal","title":null,"symbolType":"square","symbolSize":56,
    "symbolStrokeColor":"#000000","symbolStrokeWidth":1,"symbolOpacity":1,"labelFont":"DejaVu Sans Mono","labelFontSize":11.75,"labelColor":"#000000",
    "labelOffset":6,"columnPadding":11.5,"padding":0}}}},
{"data":{"values":[{"t":"2026-03-27T16:28:00Z","v":18.82}]},
 "mark":{"type":"point","shape":"triangle-up","filled":true,"color":"#7f1f1f","size":28,"opacity":1,"clip":false},
 "encoding":{
  "x":{"field":"t","type":"temporal"},
  "y":{"field":"v","type":"quantitative"}}},
{"data":{"values":[{"t":"2026-04-26T19:20:00Z","v":0}]},
 "mark":{"type":"point","shape":"triangle-right","filled":true,"color":"#7f1f1f","size":28,"opacity":1,"clip":false},
 "encoding":{
  "x":{"field":"t","type":"temporal"},
  "y":{"field":"v","type":"quantitative"}}},
{"data":{"values":[{"note":"RRDTOOL / TOBI OETIKER","t":"2026-04-27T06:40:00Z","v":19.7}]},
 "mark":{"type":"text","angle":90,"align":"left","baseline":"middle","font":"DejaVu Sans Mono","fontSize":8.5,"color":"#b4b4b4","clip":false},
 "encoding":{
  "x":{"field":"t","type":"temporal"},
  "y":{"field":"v","type":"quantitative"},
  "text":{"field":"note","type":"nominal"}}}
]
}
